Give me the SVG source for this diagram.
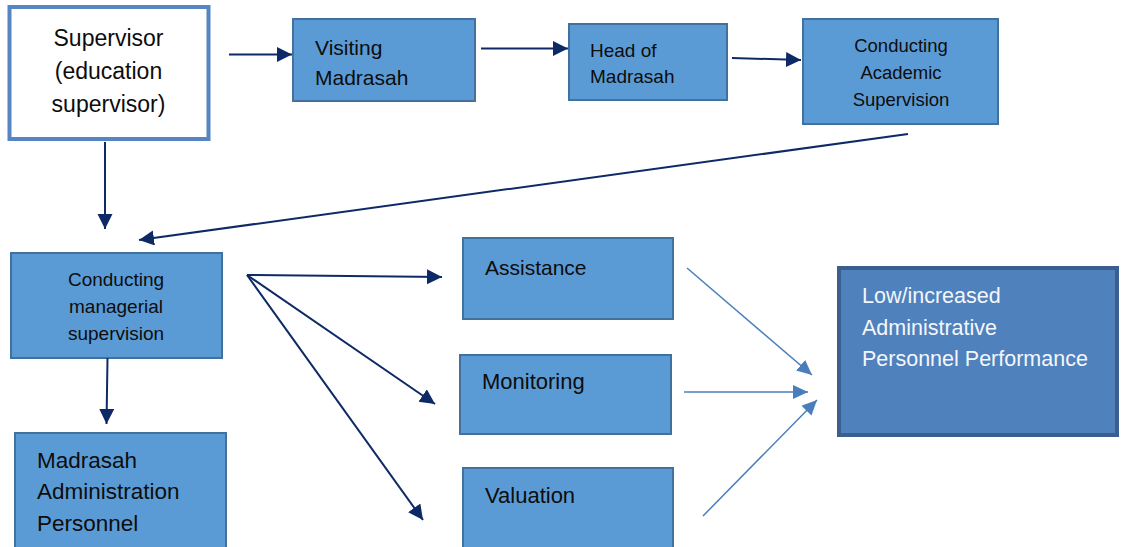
<svg xmlns="http://www.w3.org/2000/svg" width="1124" height="547" viewBox="0 0 1124 547">
<style>
.box{fill:#5b9bd5;stroke:#41719c;stroke-width:2}
.t{font-family:"Liberation Sans",Arial,sans-serif;fill:#0d0d0d}
.nv{stroke:#0e2a66;stroke-width:2;fill:none}
.lb{stroke:#4a7ebb;stroke-width:1.5;fill:none}
</style>
<defs>
<marker id="ah" markerUnits="userSpaceOnUse" markerWidth="16" markerHeight="16" refX="15" refY="7.5" orient="auto">
<path d="M0,0 L15,7.5 L0,15 z" fill="#0e2a66"/>
</marker>
<marker id="ahl" markerUnits="userSpaceOnUse" markerWidth="16" markerHeight="16" refX="15" refY="7" orient="auto">
<path d="M0,0 L15,7 L0,14 z" fill="#4a7ebb"/>
</marker>
</defs>
<rect width="1124" height="547" fill="#ffffff"/>
<g id="supervisor">
<rect x="9.5" y="7" width="199" height="132" fill="#ffffff" stroke="#5585c2" stroke-width="4"/>
<text class="t" font-size="23" text-anchor="middle"><tspan x="108.5" y="46">Supervisor</tspan><tspan x="108.5" y="79">(education</tspan><tspan x="108.5" y="112">supervisor)</tspan></text>
</g>
<g id="visiting">
<rect class="box" x="293" y="19" width="182" height="82"/>
<text class="t" font-size="21"><tspan x="315" y="55">Visiting</tspan><tspan x="315" y="85">Madrasah</tspan></text>
</g>
<g id="head">
<rect class="box" x="569" y="24" width="158" height="76"/>
<text class="t" font-size="19"><tspan x="590" y="57">Head of</tspan><tspan x="590" y="83">Madrasah</tspan></text>
</g>
<g id="academic">
<rect class="box" x="803" y="19" width="195" height="105"/>
<text class="t" font-size="18.5" text-anchor="middle"><tspan x="901" y="52">Conducting</tspan><tspan x="901" y="79">Academic</tspan><tspan x="901" y="106">Supervision</tspan></text>
</g>
<g id="managerial">
<rect class="box" x="11" y="253" width="211" height="105"/>
<text class="t" font-size="19" text-anchor="middle"><tspan x="116" y="286">Conducting</tspan><tspan x="116" y="313">managerial</tspan><tspan x="116" y="340">supervision</tspan></text>
</g>
<g id="personnel">
<rect class="box" x="15" y="433" width="211" height="130"/>
<text class="t" font-size="22.5"><tspan x="37" y="468">Madrasah</tspan><tspan x="37" y="499">Administration</tspan><tspan x="37" y="531">Personnel</tspan></text>
</g>
<g id="assistance">
<rect class="box" x="463" y="238" width="210" height="81"/>
<text class="t" font-size="21" x="485" y="275">Assistance</text>
</g>
<g id="monitoring">
<rect class="box" x="460" y="355" width="211" height="79"/>
<text class="t" font-size="22" x="482" y="389">Monitoring</text>
</g>
<g id="valuation">
<rect class="box" x="463" y="468" width="210" height="100"/>
<text class="t" font-size="22" x="485" y="503">Valuation</text>
</g>
<g id="performance">
<rect x="839" y="268" width="278" height="167" fill="#4f81bd" stroke="#3a5f8e" stroke-width="4"/>
<text class="t" font-size="21.5" style="fill:#f4f6fa"><tspan x="862" y="303">Low/increased</tspan><tspan x="862" y="335">Administrative</tspan><tspan x="862" y="366">Personnel Performance</tspan></text>
</g>
<g id="connectors">
<line class="nv" x1="229" y1="54.5" x2="292" y2="54.5" marker-end="url(#ah)"/>
<line class="nv" x1="481" y1="48.5" x2="568" y2="48.5" marker-end="url(#ah)"/>
<line class="nv" x1="732" y1="58" x2="801" y2="60" marker-end="url(#ah)"/>
<line class="nv" x1="908" y1="134" x2="139" y2="240" marker-end="url(#ah)"/>
<line class="nv" x1="105" y1="142" x2="105" y2="229" marker-end="url(#ah)"/>
<line class="nv" x1="107.5" y1="358" x2="106.5" y2="424" marker-end="url(#ah)"/>
<line class="nv" x1="247" y1="275" x2="442" y2="277" marker-end="url(#ah)"/>
<line class="nv" x1="247" y1="275" x2="435" y2="404" marker-end="url(#ah)"/>
<line class="nv" x1="247" y1="275" x2="423" y2="520" marker-end="url(#ah)"/>
<line class="lb" x1="687" y1="268" x2="812" y2="375" marker-end="url(#ahl)"/>
<line class="lb" x1="684" y1="392" x2="808" y2="392" marker-end="url(#ahl)"/>
<line class="lb" x1="703" y1="516" x2="817" y2="400" marker-end="url(#ahl)"/>
</g>
</svg>
